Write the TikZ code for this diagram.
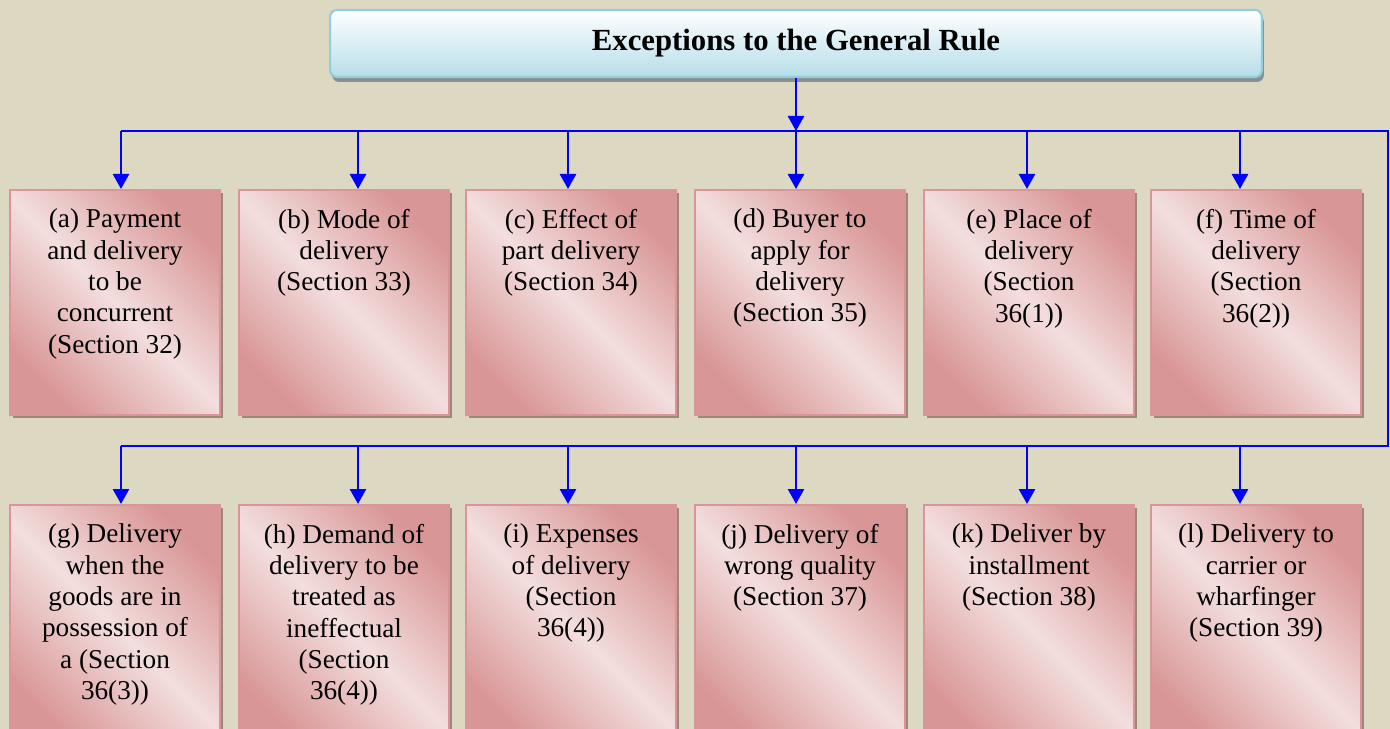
\documentclass[tikz,border=0pt]{standalone}
\usepackage{fontspec}
\setmainfont{Liberation Serif}
\usetikzlibrary{arrows.meta,shadows}
\definecolor{bg}{HTML}{DDD8C2}
\definecolor{pinkdark}{HTML}{D99696}
\definecolor{pinklight}{HTML}{F3DEDE}
\definecolor{pinkline}{HTML}{D9959A}
\definecolor{pinkshade}{HTML}{9E8679}
\definecolor{bluebot}{HTML}{B6DDE8}
\definecolor{blueline}{HTML}{92CDDC}
\definecolor{greyshade}{HTML}{87918F}

\newcommand{\boxtext}[2][3.74cm]{\parbox[t][#1][t]{4.0cm}{\centering #2}}

\tikzset{
  sect/.style={draw=pinkline, line width=1.2pt,
    top color=pinkdark, bottom color=pinkdark, middle color=pinklight, shading angle=-45,
    general shadow={fill=pinkshade, shadow xshift=0.06cm, shadow yshift=-0.06cm},
    minimum width=4.2cm, minimum height=4.5cm, inner xsep=0.1cm, inner ysep=0.38cm,
    anchor=north west, font=\fontsize{15.5}{17.8}\selectfont},
  rulebox/.style={draw=blueline, line width=1.2pt, rounded corners=0.14cm,
    top color=white, bottom color=bluebot,
    general shadow={fill=greyshade, shadow xshift=0.04cm, shadow yshift=-0.1cm},
    minimum width=18.64cm, minimum height=1.34cm,
    font=\bfseries\fontsize{17.5}{20}\selectfont},
  wire/.style={draw=blue, line width=1.5pt},
  arr/.style={wire, -{Triangle[width=0.32cm,length=0.3cm]}}
}

\begin{document}
\begin{tikzpicture}[x=0.02cm, y=-0.02cm]
\useasboundingbox[fill=bg] (0,0) rectangle (1390,729);

% heading
\node[rulebox] (rule) at (796,43.5) {Exceptions to the General Rule};

% first row
\node[sect] (a) at (9,189) {\boxtext{(a) Payment\\ and delivery\\ to be\\ concurrent\\ (Section 32)}};
\node[sect] (b) at (238,189) {\boxtext{(b) Mode of\\ delivery\\ (Section 33)}};
\node[sect] (c) at (465,189) {\boxtext{(c) Effect of\\ part delivery\\ (Section 34)}};
\node[sect] (d) at (694,189) {\boxtext{(d) Buyer to\\ apply for\\ delivery\\ (Section 35)}};
\node[sect] (e) at (923,189) {\boxtext{(e) Place of\\ delivery\\ (Section\\ 36(1))}};
\node[sect] (f) at (1150,189) {\boxtext{(f) Time of\\ delivery\\ (Section\\ 36(2))}};

% second row
\node[sect] (g) at (9,504) {\boxtext[4.1cm]{(g) Delivery\\ when the\\ goods are in\\ possession of\\ a (Section\\ 36(3))}};
\node[sect] (h) at (238,504) {\boxtext[4.1cm]{(h) Demand of\\ delivery to be\\ treated as\\ ineffectual\\ (Section\\ 36(4))}};
\node[sect] (i) at (465,504) {\boxtext[4.1cm]{(i) Expenses\\ of delivery\\ (Section\\ 36(4))}};
\node[sect] (j) at (694,504) {\boxtext[4.1cm]{(j) Delivery of\\ wrong quality\\ (Section 37)}};
\node[sect] (k) at (923,504) {\boxtext[4.1cm]{(k) Deliver by\\ installment\\ (Section 38)}};
\node[sect] (l) at (1150,504) {\boxtext[4.1cm]{(l) Delivery to\\ carrier or\\ wharfinger\\ (Section 39)}};

% bus lines
\coordinate (bus1) at (121,131);
\coordinate (bus2) at (1388,131);
\coordinate (bus3) at (1388,446);
\coordinate (bus4) at (121,446);
\draw[wire] (bus1) -- (bus2) -- (bus3) -- (bus4);
\draw[arr] (rule) -- (rule |- bus1);

\foreach \n/\x in {a/121,b/358,c/568,d/796,e/1027,f/1240} {
  \coordinate (t\n) at (\x,131);
  \draw[arr] (t\n) -- (t\n |- \n.north);
}
\foreach \n/\x in {g/121,h/358,i/568,j/796,k/1027,l/1240} {
  \coordinate (t\n) at (\x,446);
  \draw[arr] (t\n) -- (t\n |- \n.north);
}
\end{tikzpicture}
\end{document}
